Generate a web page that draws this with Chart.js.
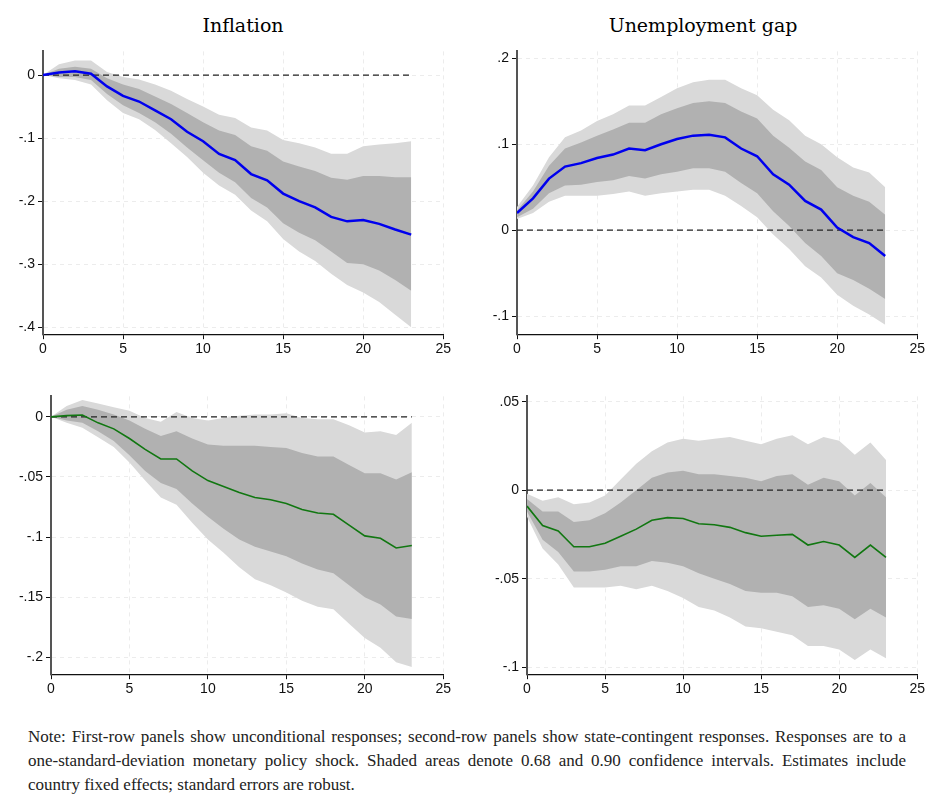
<!DOCTYPE html>
<html>
<head>
<meta charset="utf-8">
<script src="https://cdn.jsdelivr.net/npm/chart.js@4/dist/chart.umd.min.js"></script>
<style>
body { margin:0; background:#fff; width:935px; height:809px; position:relative; font-family:"DejaVu Serif", serif; }
.box { position:absolute; }
.title { position:absolute; font-size:19px; text-align:center; width:300px; }
.note { position:absolute; left:28px; top:725px; width:878px; font-size:15.5px; line-height:24px; text-align:justify; color:#222; font-family:"Liberation Serif","DejaVu Serif",serif; font-size:17px; }
</style>
</head>
<body>
<div class="title" style="left:93px;top:14px">Inflation</div>
<div class="title" style="left:553px;top:14px">Unemployment gap</div>
<div class="box" style="left:3px;top:40px;width:450px;height:320px"><canvas id="c1"></canvas></div>
<div class="box" style="left:477px;top:40px;width:450px;height:320px"><canvas id="c2"></canvas></div>
<div class="box" style="left:3px;top:385px;width:450px;height:315px"><canvas id="c3"></canvas></div>
<div class="box" style="left:487px;top:385px;width:440px;height:315px"><canvas id="c4"></canvas></div>
<div class="note">Note: First-row panels show unconditional responses; second-row panels show state-contingent responses. Responses are to a one-standard-deviation monetary policy shock. Shaded areas denote 0.68 and 0.90 confidence intervals. Estimates include country fixed effects; standard errors are robust.</div>
<script>
var horizons = [0,1,2,3,4,5,6,7,8,9,10,11,12,13,14,15,16,17,18,19,20,21,22,23];
var xTicks = [0,5,10,15,20,25];

// Inflation, unconditional
var infMean = [0,.004,.006,.002,-.018,-.033,-.042,-.056,-.07,-.09,-.105,-.125,-.135,-.157,-.167,-.188,-.2,-.21,-.225,-.232,-.23,-.236,-.245,-.253];
var infHi68 = [0,.01,.013,.01,-.005,-.015,-.022,-.034,-.046,-.06,-.075,-.088,-.095,-.113,-.12,-.137,-.145,-.152,-.163,-.166,-.16,-.16,-.162,-.162];
var infLo68 = [0,-.003,-.003,-.008,-.03,-.048,-.06,-.075,-.093,-.115,-.135,-.155,-.17,-.195,-.21,-.235,-.25,-.262,-.28,-.298,-.3,-.31,-.325,-.342];
var infHi90 = [0,.017,.023,.023,.005,-.003,-.007,-.015,-.025,-.038,-.05,-.063,-.068,-.083,-.088,-.103,-.108,-.115,-.125,-.125,-.113,-.11,-.108,-.105];
var infLo90 = [0,-.005,-.008,-.015,-.04,-.06,-.07,-.087,-.108,-.13,-.155,-.175,-.19,-.215,-.232,-.26,-.28,-.295,-.315,-.333,-.345,-.36,-.38,-.4];
var infTicks = [0,-.1,-.2,-.3,-.4];

// Unemployment gap, unconditional
var unMean = [.02,.037,.06,.074,.078,.084,.088,.095,.093,.1,.106,.11,.111,.108,.095,.086,.065,.053,.034,.024,.003,-.008,-.015,-.03];
var unHi68 = [.023,.045,.075,.095,.102,.11,.117,.125,.125,.135,.142,.148,.15,.148,.138,.13,.11,.096,.08,.07,.05,.04,.033,.018];
var unLo68 = [.015,.025,.043,.052,.053,.056,.058,.063,.06,.065,.068,.072,.072,.068,.055,.043,.022,.005,-.015,-.03,-.05,-.058,-.068,-.08];
var unHi90 = [.027,.052,.085,.108,.116,.127,.135,.145,.145,.155,.165,.172,.175,.175,.165,.157,.14,.128,.11,.1,.085,.073,.067,.05];
var unLo90 = [.013,.02,.033,.04,.04,.04,.042,.045,.04,.043,.045,.047,.047,.04,.028,.015,-.005,-.022,-.042,-.055,-.075,-.088,-.098,-.11];
var unTicks = [.2,.1,0,-.1];

// Inflation, state-contingent
var infSMean = [0,.001,.0015,-.005,-.01,-.018,-.027,-.035,-.035,-.045,-.053,-.058,-.063,-.067,-.069,-.072,-.077,-.08,-.081,-.09,-.099,-.101,-.109,-.107];
var infSHi68 = [0,.006,.009,.006,.002,-.003,-.01,-.016,-.012,-.018,-.023,-.024,-.024,-.024,-.025,-.026,-.03,-.033,-.033,-.04,-.047,-.047,-.052,-.046];
var infSLo68 = [0,-.003,-.005,-.012,-.02,-.032,-.045,-.055,-.06,-.072,-.083,-.093,-.102,-.108,-.112,-.116,-.122,-.127,-.13,-.14,-.15,-.156,-.166,-.168];
var infSHi90 = [0,.009,.014,.011,.008,.005,-.001,-.004,.004,-.001,-.003,-.001,.001,.002,.002,.003,-.001,-.002,-.002,-.007,-.013,-.012,-.015,-.005];
var infSLo90 = [0,-.005,-.009,-.017,-.025,-.038,-.053,-.067,-.073,-.088,-.102,-.113,-.125,-.135,-.14,-.146,-.153,-.158,-.16,-.172,-.184,-.192,-.204,-.208];
var infSTicks = [0,-.05,-.1,-.15,-.2];

// Unemployment gap, state-contingent
var unSMean = [-.009,-.02,-.023,-.032,-.032,-.03,-.026,-.022,-.017,-.0155,-.016,-.019,-.0195,-.021,-.024,-.026,-.0255,-.025,-.031,-.029,-.031,-.038,-.031,-.038];
var unSHi68 = [-.005,-.012,-.012,-.018,-.017,-.013,-.007,0,.007,.01,.011,.009,.009,.008,.007,.005,.008,.009,.003,.007,.005,-.003,.004,-.004];
var unSLo68 = [-.012,-.028,-.035,-.046,-.046,-.045,-.043,-.043,-.04,-.041,-.043,-.047,-.05,-.053,-.057,-.058,-.058,-.06,-.066,-.065,-.067,-.073,-.067,-.072];
var unSHi90 = [-.002,-.006,-.004,-.008,-.007,-.003,.006,.015,.022,.027,.029,.028,.029,.03,.028,.026,.029,.031,.026,.03,.028,.02,.027,.017];
var unSLo90 = [-.015,-.033,-.042,-.055,-.055,-.055,-.054,-.056,-.054,-.057,-.061,-.066,-.068,-.072,-.077,-.078,-.08,-.082,-.088,-.088,-.09,-.096,-.09,-.095];
var unSTicks = [.05,0,-.05,-.1];

function pts(arr) { return arr.map(function (v, i) { return {x: horizons[i], y: v}; }); }

function stataFmt(v) {
  if (Math.abs(v) < 1e-9) return "0";
  var s = String(Math.round(v * 1000) / 1000);
  return s.replace("0.", ".");
}

function makePanel(id, mean, hi68, lo68, hi90, lo90, yTicks, ymin, ymax, lineColor, lineWidth, yw) {
  var tickFont = {family: "'Liberation Sans Narrow', 'Liberation Sans', sans-serif", size: 14};
  new Chart(document.getElementById(id), {
    type: 'line',
    data: {
      datasets: [
        {data: pts(mean), borderColor: lineColor, borderWidth: lineWidth, pointRadius: 0, fill: false},
        {data: [{x: 0, y: 0}, {x: 23, y: 0}], borderColor: "#222", borderWidth: 1.2, borderDash: [6, 4], pointRadius: 0, fill: false},
        {data: pts(hi68), borderColor: "rgba(0,0,0,0)", borderWidth: 0, pointRadius: 0, fill: false},
        {data: pts(lo68), borderColor: "rgba(0,0,0,0)", borderWidth: 0, pointRadius: 0, fill: 2, backgroundColor: "#b1b1b1"},
        {data: pts(hi90), borderColor: "rgba(0,0,0,0)", borderWidth: 0, pointRadius: 0, fill: false},
        {data: pts(lo90), borderColor: "rgba(0,0,0,0)", borderWidth: 0, pointRadius: 0, fill: 4, backgroundColor: "#d9d9d9"}
      ]
    },
    options: {
      responsive: true, maintainAspectRatio: false, animation: false,
      plugins: {legend: {display: false}, tooltip: {enabled: false}},
      layout: {padding: {right: 6, top: 6}},
      scales: {
        x: {
          type: 'linear', min: 0, max: 25,
          afterBuildTicks: function (s) { s.ticks = xTicks.map(function (v) { return {value: v}; }); },
          ticks: {font: tickFont, color: "#111", padding: 2},
          grid: {color: "#ececec", tickColor: "#111", tickLength: 5, drawOnChartArea: true},
          border: {color: "#111", width: 1.2, dash: [4, 4]}
        },
        y: {
          min: ymin, max: ymax,
          afterFit: function (s) { s.width = yw; },
          afterBuildTicks: function (s) { s.ticks = yTicks.map(function (v) { return {value: v}; }); },
          ticks: {font: tickFont, color: "#111", padding: 3, callback: function (v) { return stataFmt(v); }},
          grid: {color: "#ececec", tickColor: "#111", tickLength: 5},
          border: {color: "#555", width: 2, dash: [4, 4]}
        }
      }
    }
  });
}

makePanel("c1", infMean, infHi68, infLo68, infHi90, infLo90, infTicks, -0.411, 0.0375, "#0000ee", 2.5, 40);
makePanel("c2", unMean, unHi68, unLo68, unHi90, unLo90, unTicks, -0.121, 0.208, "#0000ee", 2.5, 40);
makePanel("c3", infSMean, infSHi68, infSLo68, infSHi90, infSLo90, infSTicks, -0.214, 0.017, "#117711", 1.6, 48);
makePanel("c4", unSMean, unSHi68, unSLo68, unSHi90, unSLo90, unSTicks, -0.104, 0.053, "#117711", 1.6, 40);
</script>
</body>
</html>
